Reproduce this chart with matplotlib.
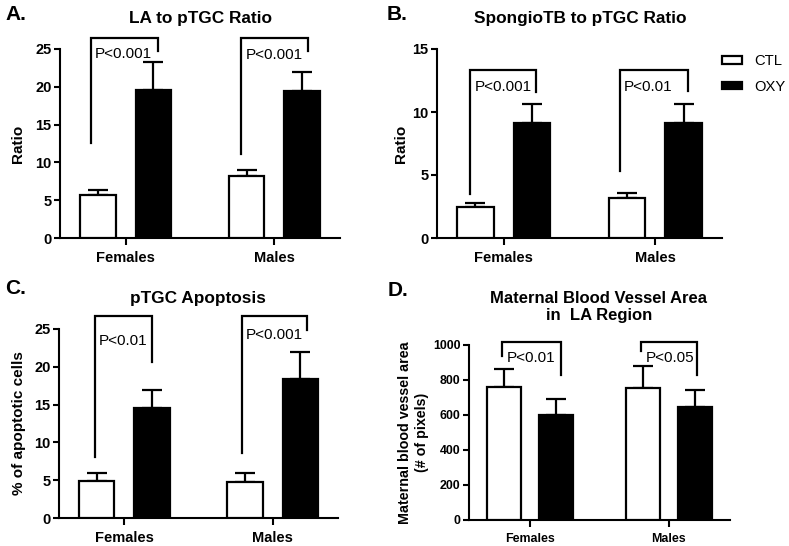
import numpy as np
import matplotlib.pyplot as plt
from matplotlib.patches import Patch

plt.rcParams['font.family'] = ['Liberation Sans', 'DejaVu Sans']

groups = ['Females', 'Males']
series = ['CTL', 'OXY']

# A. LA to pTGC ratio
la_ctl = [5.7, 8.15]
la_ctl_err = [0.7, 0.85]
la_oxy = [19.6, 19.4]
la_oxy_err = [3.7, 2.6]
la_p = ['P<0.001', 'P<0.001']

# B. SpongioTB to pTGC ratio
sp_ctl = [2.5, 3.2]
sp_ctl_err = [0.3, 0.4]
sp_oxy = [9.1, 9.15]
sp_oxy_err = [1.5, 1.45]
sp_p = ['P<0.001', 'P<0.01']

# C. pTGC apoptosis (%)
ap_ctl = [4.9, 4.8]
ap_ctl_err = [1.1, 1.1]
ap_oxy = [14.5, 18.4]
ap_oxy_err = [2.45, 3.5]
ap_p = ['P<0.01', 'P<0.001']

# D. maternal blood vessel area (pixels)
bv_ctl = [760, 753]
bv_ctl_err = [105, 127]
bv_oxy = [601, 645]
bv_oxy_err = [93, 96]
bv_p = ['P<0.01', 'P<0.05']

fig = plt.figure(figsize=(7.89, 5.46), dpi=100)
W, H = 789.0, 546.0


def px_axes(l, t, r, b):
    return fig.add_axes([l / W, 1 - b / H, (r - l) / W, (b - t) / H])


def panel(ax, ctl, ctl_err, oxy, oxy_err, ymax, step, plabels, brackets,
          fs=10.5):
    x = np.arange(len(groups))
    off, w = 0.187, 0.24
    ax.bar(x - off, ctl, w, color='white', edgecolor='black', linewidth=1.6,
           zorder=3)
    ax.bar(x + off, oxy, w, color='black', edgecolor='black', linewidth=1.6,
           zorder=3)
    ax.errorbar(x - off, ctl, yerr=[np.zeros(2), ctl_err], fmt='none',
                ecolor='black', elinewidth=1.6, capsize=7, capthick=1.6,
                zorder=2)
    ax.errorbar(x + off, oxy, yerr=[np.zeros(2), oxy_err], fmt='none',
                ecolor='black', elinewidth=1.6, capsize=7, capthick=1.6,
                zorder=2)
    for i, (dl, dr, yl, top, yr, ty) in enumerate(brackets):
        ax.plot([i + dl, i + dl, i + dr, i + dr], [yl, top, top, yr],
                color='black', lw=1.6, clip_on=False, solid_joinstyle='miter')
        ax.annotate(plabels[i], xy=(i + dl, ty), xytext=(3, 0),
                    textcoords='offset points', ha='left', va='center',
                    fontsize=11, annotation_clip=False)
    ax.set_xlim(-0.44, 1.44)
    ax.set_ylim(0, ymax)
    ax.set_yticks(np.arange(0, ymax + step / 2, step))
    ax.set_xticks(x)
    ax.set_xticklabels(groups)
    for s in ['top', 'right']:
        ax.spines[s].set_visible(False)
    for s in ['left', 'bottom']:
        ax.spines[s].set_linewidth(1.5)
    ax.tick_params(axis='y', length=4, width=1.5, pad=2, labelsize=fs)
    ax.tick_params(axis='x', length=5, width=1.5, pad=4, labelsize=fs)
    for lab in ax.get_xticklabels() + ax.get_yticklabels():
        lab.set_fontweight('bold')


axA = px_axes(60, 49, 340, 238)
panel(axA, la_ctl, la_ctl_err, la_oxy, la_oxy_err, 25, 5, la_p,
      [(-0.235, 0.215, 12.6, 26.4, 24.7, 24.4),
       (-0.223, 0.228, 11.1, 26.4, 24.7, 24.2)])
axA.set_ylabel('Ratio', fontsize=11, fontweight='bold')
axA.yaxis.set_label_coords(-0.125, 0.5)

axB = px_axes(437, 49, 722, 238)
panel(axB, sp_ctl, sp_ctl_err, sp_oxy, sp_oxy_err, 15, 5, sp_p,
      [(-0.22, 0.21, 3.5, 13.3, 11.6, 12.0),
       (-0.235, 0.215, 5.3, 13.3, 11.7, 12.0)])
axB.set_ylabel('Ratio', fontsize=11, fontweight='bold')
axB.yaxis.set_label_coords(-0.102, 0.5)

axC = px_axes(59, 329, 338, 518)
panel(axC, ap_ctl, ap_ctl_err, ap_oxy, ap_oxy_err, 25, 5, ap_p,
      [(-0.198, 0.19, 8.1, 26.7, 20.6, 23.4),
       (-0.21, 0.234, 8.65, 26.7, 24.9, 24.2)])
axC.set_ylabel('% of apoptotic cells', fontsize=11, fontweight='bold')
axC.yaxis.set_label_coords(-0.12, 0.5)

axD = px_axes(469, 345, 730, 520)
panel(axD, bv_ctl, bv_ctl_err, bv_oxy, bv_oxy_err, 1000, 200, bv_p,
      [(-0.2, 0.22, 935, 1017, 827, 928),
       (-0.2, 0.2, 964, 1017, 831, 928)], fs=8.9)
axD.set_ylabel('Maternal blood vessel area\n(# of pixels)', fontsize=10.3,
               fontweight='bold', linespacing=1.25)
axD.yaxis.set_label_coords(-0.153, 0.5)

# titles and panel letters
fig.text(200 / W, 1 - 19 / H, 'LA to pTGC Ratio', ha='center', va='center',
         fontsize=12.4, fontweight='bold')
fig.text(580 / W, 1 - 19 / H, 'SpongioTB to pTGC Ratio', ha='center',
         va='center', fontsize=12.4, fontweight='bold')
fig.text(198 / W, 1 - 298 / H, 'pTGC Apoptosis', ha='center', va='center',
         fontsize=12.4, fontweight='bold')
fig.text(599 / W, 1 - 307 / H, 'Maternal Blood Vessel Area\nin  LA Region',
         ha='center', va='center', fontsize=12, fontweight='bold',
         linespacing=1.12)
for lx, ly, letter in [(5, 15, 'A.'), (387, 15, 'B.'), (5, 289, 'C.'),
                       (388, 290, 'D.')]:
    fig.text(lx / W, 1 - ly / H, letter, ha='left', va='center', fontsize=15,
             fontweight='bold')

handles = [Patch(facecolor='white', edgecolor='black', linewidth=1.6),
           Patch(facecolor='black', edgecolor='black', linewidth=1.6)]
fig.legend(handles, series, loc='center left',
           bbox_to_anchor=(722 / W, 1 - 74 / H), frameon=False, fontsize=10.6,
           borderpad=0, borderaxespad=0, handlelength=1.35, handleheight=0.4,
           handletextpad=0.85, labelspacing=0.8)

fig.savefig('out.png', dpi=100)
